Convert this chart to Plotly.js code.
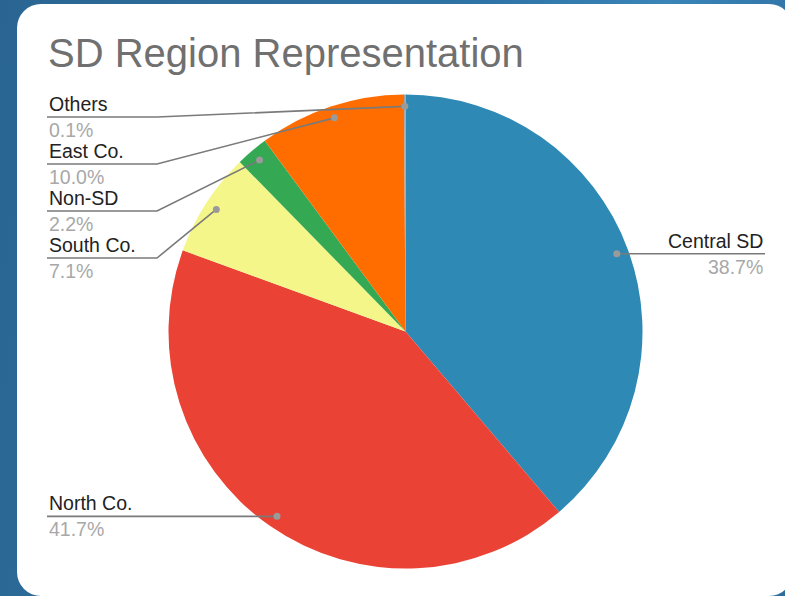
<!DOCTYPE html>
<html>
<head>
<meta charset="utf-8">
<script src="https://cdn.plot.ly/plotly-3.0.1.min.js"></script>
<style>
  html, body { margin:0; padding:0; width:785px; height:596px; overflow:hidden;
    background: linear-gradient(100deg, #2a6592 0%, #2f74a6 55%, #3a84b8 75%, #2c6c9c 100%); }
  #card { position:absolute; left:17px; top:4px; width:776px; height:592px; background:#fff; border-radius:24px; }
  #chart { position:absolute; left:0; top:0; width:785px; height:596px; }
</style>
</head>
<body>
<div id="card"></div>
<div id="chart"></div>
<script>
// ---- data ----
const regions = ["Central SD", "North Co.", "South Co.", "Non-SD", "East Co.", "Others"];
const shares  = [38.7, 41.7, 7.1, 2.2, 10.0, 0.1];
const pctLabels = ["38.7%", "41.7%", "7.1%", "2.2%", "10.0%", "0.1%"];
const sliceColors = ["#2e8ab5", "#ea4335", "#f4f68a", "#34a853", "#ff6d01", "#a0a0a0"];

// ---- layout config (pixels) ----
const W = 785, H = 596;
const cx = 405.5, cy = 331.5, R = 237;
const dotFrac = 0.95;
// label slots: side and horizontal leader y (null => at dot height)
const slots = {
  "Central SD": {side: "right", y: null},
  "North Co.":  {side: "left",  y: null},
  "South Co.":  {side: "left",  y: 258},
  "Non-SD":     {side: "left",  y: 211},
  "East Co.":   {side: "left",  y: 164},
  "Others":     {side: "left",  y: 117}
};
const leftX = 47, rightX = 765, elbowX = 157;

const px = x => x / W;
const py = y => 1 - y / H;

const total = shares.reduce((a, b) => a + b, 0);
let cum = 0;
const shapes = [], annotations = [];
regions.forEach((name, i) => {
  const mid = (cum + shares[i] / 2) / total * 2 * Math.PI;
  cum += shares[i];
  const dx = cx + dotFrac * R * Math.sin(mid);
  const dy = cy - dotFrac * R * Math.cos(mid);
  const s = slots[name];
  const ly = s.y === null ? dy : s.y;
  const endX = s.side === "right" ? rightX : leftX;
  let path;
  if (s.y === null) {
    path = `M ${px(dx)} ${py(dy)} L ${px(endX)} ${py(ly)}`;
  } else {
    path = `M ${px(dx)} ${py(dy)} L ${px(elbowX)} ${py(ly)} L ${px(endX)} ${py(ly)}`;
  }
  shapes.push({type: "path", xref: "paper", yref: "paper", path: path,
    line: {color: "#7a7a7a", width: 1.6}});
  const r = 3.5;
  shapes.push({type: "circle", xref: "paper", yref: "paper",
    x0: px(dx - r), x1: px(dx + r), y0: py(dy + r), y1: py(dy - r),
    fillcolor: "#9a9a9a", line: {width: 0}});
  const anchor = s.side === "right" ? "right" : "left";
  annotations.push({xref: "paper", yref: "paper", x: px(endX), y: py(ly - 13),
    xanchor: anchor, yanchor: "middle", text: name, showarrow: false,
    font: {family: "Liberation Sans, Arial, sans-serif", size: 19.5, color: "#222222"}});
  annotations.push({xref: "paper", yref: "paper", x: px(endX), y: py(ly + 13),
    xanchor: anchor, yanchor: "middle", text: pctLabels[i], showarrow: false,
    font: {family: "Liberation Sans, Arial, sans-serif", size: 19.5, color: "#a8a8a8"}});
});

const trace = {
  type: "pie",
  labels: regions,
  values: shares,
  sort: false,
  direction: "clockwise",
  rotation: 0,
  marker: {colors: sliceColors, line: {width: 0}},
  textinfo: "none",
  hoverinfo: "label+percent",
  showlegend: false,
  domain: {x: [px(cx - R), px(cx + R)], y: [py(cy + R), py(cy - R)]}
};

const layout = {
  width: W, height: H,
  margin: {l: 0, r: 0, t: 0, b: 0},
  paper_bgcolor: "rgba(0,0,0,0)",
  plot_bgcolor: "rgba(0,0,0,0)",
  title: {text: "SD Region Representation", x: 48 / W, xanchor: "left",
    y: 1 - 53 / H, yanchor: "middle", xref: "container", yref: "container",
    font: {family: "Liberation Sans, Arial, sans-serif", size: 40, color: "#707070"}},
  shapes: shapes,
  annotations: annotations
};

Plotly.newPlot("chart", [trace], layout, {displayModeBar: false, staticPlot: true});
</script>
</body>
</html>
